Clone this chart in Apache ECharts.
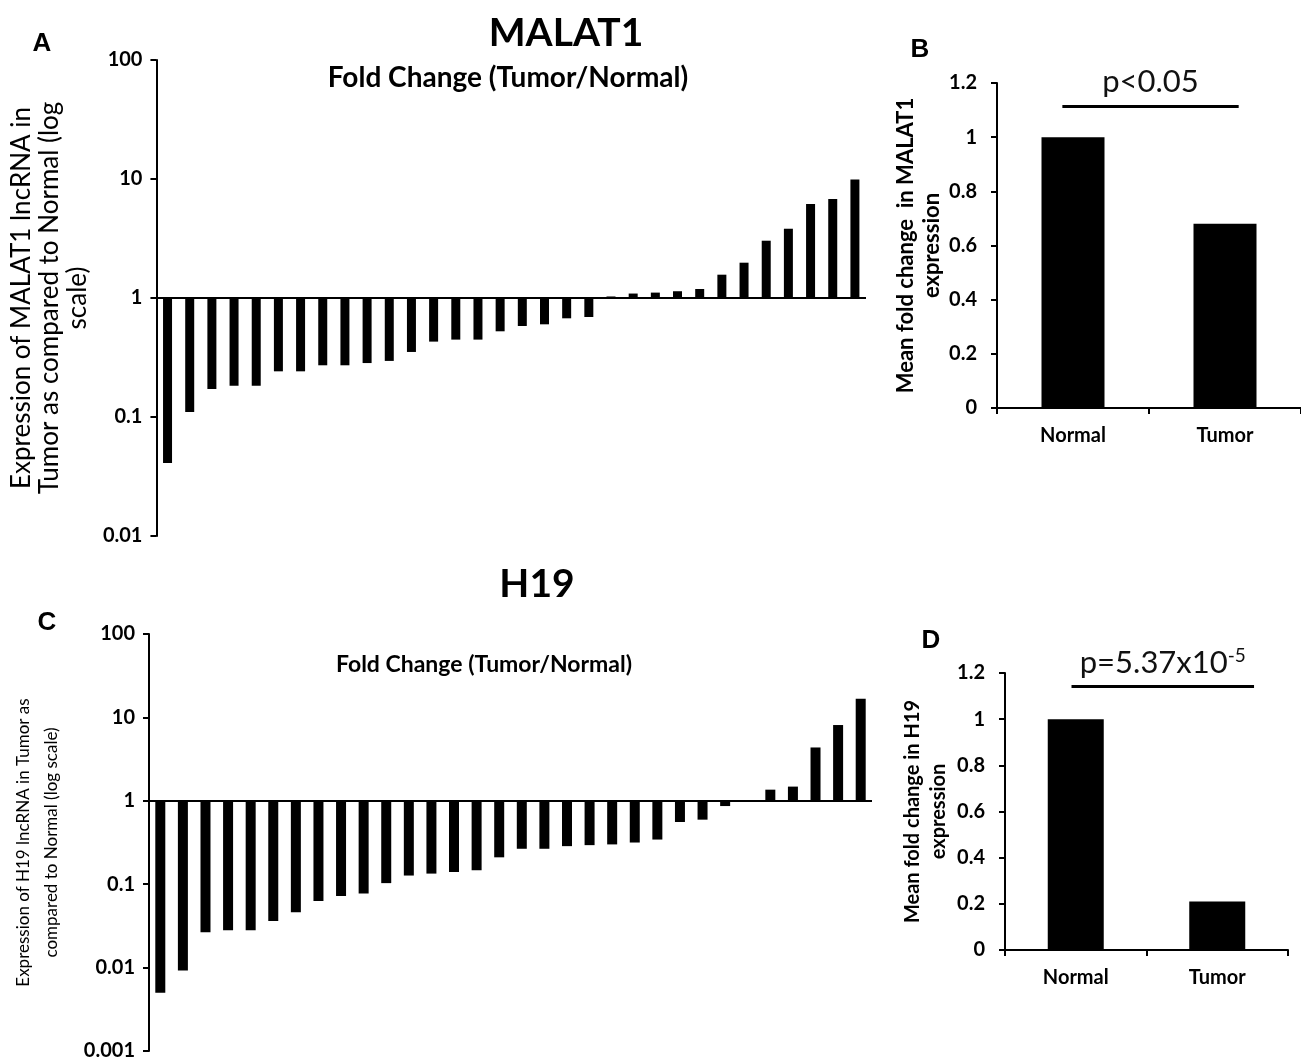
<!DOCTYPE html>
<html lang="en">
<head>
<meta charset="UTF-8">
<title>MALAT1 / H19 fold change</title>
<script src="https://cdn.jsdelivr.net/npm/echarts@6/dist/echarts.min.js"></script>
</head>
<body style="margin:0;background:#fff;">
<div id="main" style="width:1301px;height:1061px;"></div>
<script type="text/javascript">
// fold change tumor/normal per sample, sorted
var malatFold = [0.041, 0.11, 0.172, 0.183, 0.183, 0.242, 0.242, 0.272, 0.272, 0.284,
    0.296, 0.352, 0.43, 0.447, 0.447, 0.525, 0.582, 0.601, 0.675, 0.692,
    1.03, 1.09, 1.11, 1.14, 1.19, 1.57, 1.98, 3.03, 3.82, 6.17, 6.79, 9.9];
var h19Fold = [0.005, 0.0092, 0.0266, 0.0281, 0.0281, 0.0363, 0.046, 0.0628, 0.072, 0.0775,
    0.103, 0.127, 0.134, 0.140, 0.147, 0.21, 0.266, 0.266, 0.286, 0.294,
    0.30, 0.316, 0.343, 0.557, 0.594, 0.865, 1, 1.36, 1.48, 4.36, 8.1, 16.7];
var malatSamples = malatFold.map(function (v, i) { return 'S' + (i + 1); });
var h19Samples = h19Fold.map(function (v, i) { return 'S' + (i + 1); });

// mean fold change
var groups = ['Normal', 'Tumor'];
var malatMean = [1.0, 0.68];
var h19Mean = [1.0, 0.21];

// significance brackets: [from, to] in group-index units, height
var malatSig = [-0.07, 1.09, 1.114];
var h19Sig = [-0.03, 1.26, 1.142];

var myChart = echarts.init(document.getElementById('main'));

var black = '#000';
var tickFont = { color: black, fontFamily: 'Lato', fontWeight: 'bold', fontSize: 20 };

function logAxis(grid, min, name, gap, size, lh) {
    return {
        gridIndex: grid, type: 'log', logBase: 10, min: min, max: 100,
        axisLine: { show: true, onZero: false, lineStyle: { color: black, width: 2 } },
        axisTick: { show: true, length: 6, lineStyle: { color: black, width: 2 } },
        axisLabel: Object.assign({ margin: 14, formatter: function (v) { return String(+v.toPrecision(3)); } }, tickFont),
        splitLine: { show: false },
        name: name, nameLocation: 'middle', nameRotate: 90, nameGap: gap,
        nameTextStyle: { color: black, fontFamily: 'Lato', fontSize: size, lineHeight: lh }
    };
}
function meanAxis(grid, name, gap, size) {
    return {
        gridIndex: grid, type: 'value', min: 0, max: 1.2, interval: 0.2,
        axisLine: { show: true, onZero: false, lineStyle: { color: black, width: 2 } },
        axisTick: { show: true, length: 6, lineStyle: { color: black, width: 2 } },
        axisLabel: Object.assign({ margin: 20 }, tickFont),
        splitLine: { show: false },
        name: name, nameLocation: 'middle', nameRotate: 90, nameGap: gap,
        nameTextStyle: { color: black, fontFamily: 'Lato', fontSize: size, lineHeight: 26, fontWeight: 'bold' }
    };
}
function sampleAxis(grid, data) {
    return {
        gridIndex: grid, type: 'category', data: data,
        axisLine: { show: false }, axisTick: { show: false }, axisLabel: { show: false }
    };
}
function groupAxis(grid) {
    return {
        gridIndex: grid, type: 'category', data: groups,
        axisLine: { onZero: false, lineStyle: { color: black, width: 2 } },
        axisTick: { show: true, length: 6, lineStyle: { color: black, width: 2 } },
        axisLabel: { color: black, fontFamily: 'Lato', fontWeight: 'bold', fontSize: 20, margin: 18 }
    };
}
// hidden value axis laid over the group axis, so a bracket can start between categories
function bracketAxis(grid) {
    return { gridIndex: grid, type: 'value', min: -0.5, max: 1.5, show: false };
}
var baseLine = {
    silent: true, symbol: 'none', label: { show: false },
    lineStyle: { color: black, width: 2, type: 'solid' },
    data: [{ yAxis: 1 }]
};
function sigSeries(xi, yi, sig, label, dist) {
    return {
        type: 'line', xAxisIndex: xi, yAxisIndex: yi, data: [], silent: true,
        markLine: {
            silent: true, symbol: 'none',
            lineStyle: { color: black, width: 3, type: 'solid' },
            label: {
                show: true, position: 'insideMiddleTop', distance: dist, formatter: label,
                color: '#111', fontFamily: 'Lato', fontSize: 31,
                rich: {
                    a: { color: '#111', fontFamily: 'Lato', fontSize: 31, lineHeight: 34 },
                    s: { color: '#111', fontFamily: 'Lato', fontSize: 19, verticalAlign: 'top', lineHeight: 34 }
                }
            },
            data: [[{ coord: [sig[0], sig[2]] }, { coord: [sig[1], sig[2]] }]]
        }
    };
}
function txt(x, y, text, font) {
    return {
        type: 'text', x: x, y: y, silent: true,
        style: { text: text, font: font, fill: black, textAlign: 'center', textVerticalAlign: 'middle', align: 'center', verticalAlign: 'middle' }
    };
}

option = {
    animation: false,
    backgroundColor: '#fff',
    grid: [
        { left: 152, top: 60, width: 714, height: 476 },
        { left: 997, top: 83, width: 312, height: 325 },
        { left: 149, top: 634, width: 723, height: 420 },
        { left: 1005, top: 673, width: 283, height: 277 }
    ],
    xAxis: [sampleAxis(0, malatSamples), groupAxis(1), sampleAxis(2, h19Samples), groupAxis(3),
        bracketAxis(1), bracketAxis(3)],
    yAxis: [
        logAxis(0, 0.01, 'Expression of MALAT1 lncRNA in\nTumor as compared to Normal (log\nscale)', 60, 26, 28),
        meanAxis(1, 'Mean fold change  in MALAT1\nexpression', 50, 22),
        logAxis(2, 0.001, 'Expression of H19 lncRNA in Tumor as\ncompared to Normal (log scale)', 83, 17, 28),
        meanAxis(3, 'Mean fold change in H19\nexpression', 53, 20)
    ],
    series: [
        { type: 'bar', xAxisIndex: 0, yAxisIndex: 0, data: malatFold, barWidth: 9,
          itemStyle: { color: black }, markLine: baseLine },
        { type: 'bar', xAxisIndex: 1, yAxisIndex: 1, data: malatMean, barWidth: 63,
          itemStyle: { color: black } },
        { type: 'bar', xAxisIndex: 2, yAxisIndex: 2, data: h19Fold, barWidth: 10,
          itemStyle: { color: black }, markLine: baseLine },
        { type: 'bar', xAxisIndex: 3, yAxisIndex: 3, data: h19Mean, barWidth: 56,
          itemStyle: { color: black } },
        sigSeries(4, 1, malatSig, 'p<0.05', 9),
        sigSeries(5, 3, h19Sig, '{a|p=5.37x10}{s|-5}', 6)
    ],
    graphic: [
        txt(42, 44, 'A', 'bold 26px "Liberation Sans"'),
        txt(920, 50, 'B', 'bold 26px "Liberation Sans"'),
        txt(47, 623, 'C', 'bold 26px "Liberation Sans"'),
        txt(931, 641, 'D', 'bold 26px "Liberation Sans"'),
        txt(566, 33, 'MALAT1', 'bold 39px Lato'),
        txt(508, 78, 'Fold Change (Tumor/Normal)', 'bold 28px Lato'),
        txt(537, 584, 'H19', 'bold 39px Lato'),
        txt(484, 665, 'Fold Change (Tumor/Normal)', 'bold 23px Lato')
    ]
};
myChart.setOption(option);
</script>
</body>
</html>
